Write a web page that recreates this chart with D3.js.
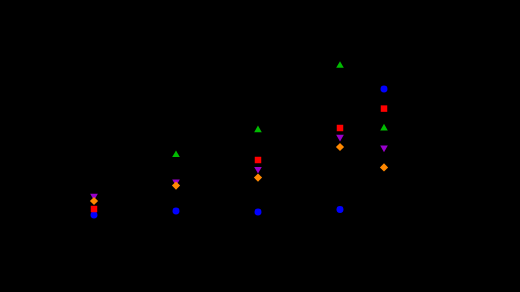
<!DOCTYPE html>
<html>
<head>
<meta charset="utf-8">
<script src="https://cdn.jsdelivr.net/npm/d3@7"></script>
<style>
  html, body { margin: 0; padding: 0; background: #000; }
  svg { display: block; font-family: "DejaVu Sans", sans-serif; }
</style>
</head>
<body>
<div id="chart"></div>
<script>
// data
var categories = ["Q1", "Q2", "Q3", "Q4"];
var seriesNames = ["Series A", "Series B", "Series C", "Series D", "Series E"];
var seriesA = [11.75, 12.75, 12.5, 13.1];      // blue circles
var seriesB = [13.25, null, 25.5, 33.5];       // red squares
var seriesC = [null, 26.8, 33.0, 49.1];        // green triangles
var seriesD = [16.5, 20.1, 23.2, 31.25];       // purple down triangles
var seriesE = [15.25, 19.1, 21.1, 28.75];      // orange diamonds
var yTicks = [0, 10, 20, 30, 40, 50, 60];

var svgWidth = 520, svgHeight = 292;
var margin = { top: 22, right: 139, bottom: 30, left: 53 };

var svg = d3.select("#chart").append("svg")
    .attr("width", svgWidth)
    .attr("height", svgHeight);

var x = d3.scalePoint()
    .domain(categories)
    .range([margin.left, svgWidth - margin.right])
    .padding(0.5);

var y = d3.scaleLinear()
    .domain([0, 60])
    .range([svgHeight - margin.bottom, margin.top]);

// axes are black, same as the page
svg.append("g")
    .attr("transform", "translate(0," + (svgHeight - margin.bottom) + ")")
    .call(d3.axisBottom(x))
    .call(function (g) { g.selectAll("line,path").attr("stroke", "#000"); g.selectAll("text").attr("fill", "#000"); });

svg.append("g")
    .attr("transform", "translate(" + margin.left + ",0)")
    .call(d3.axisLeft(y).tickValues(yTicks))
    .call(function (g) { g.selectAll("line,path").attr("stroke", "#000"); g.selectAll("text").attr("fill", "#000"); });

// diamond = square turned 45 degrees
var series = [
    { name: seriesNames[0], values: seriesA, color: "#0000ff", type: d3.symbolCircle, rot: 0, size: 38 },
    { name: seriesNames[1], values: seriesB, color: "#ff0000", type: d3.symbolSquare, rot: 0, size: 42 },
    { name: seriesNames[2], values: seriesC, color: "#00bb00", type: d3.symbolTriangle, rot: 0, size: 25 },
    { name: seriesNames[3], values: seriesD, color: "#9900cc", type: d3.symbolTriangle, rot: 180, size: 25 },
    { name: seriesNames[4], values: seriesE, color: "#ff8800", type: d3.symbolSquare, rot: 45, size: 34 }
];

series.forEach(function (s) {
    var sym = d3.symbol().type(s.type).size(s.size);
    svg.append("g")
        .selectAll("path")
        .data(s.values.map(function (v, i) { return { cat: categories[i], v: v }; })
            .filter(function (d) { return d.v != null; }))
        .join("path")
        .attr("d", sym)
        .attr("fill", s.color)
        .attr("transform", function (d) {
            return "translate(" + x(d.cat) + "," + y(d.v) + ") rotate(" + s.rot + ")";
        });
});

// legend to the right of the plot
var legend = svg.append("g")
    .attr("transform", "translate(384,89)");

var items = legend.selectAll("g")
    .data(series)
    .join("g")
    .attr("transform", function (d, i) { return "translate(0," + (i * 19.6) + ")"; });

items.append("path")
    .attr("d", function (d) { return d3.symbol().type(d.type).size(d.size)(); })
    .attr("fill", function (d) { return d.color; })
    .attr("transform", function (d) { return "rotate(" + d.rot + ")"; });

items.append("text")
    .attr("x", 10)
    .attr("dy", "0.35em")
    .attr("font-size", 11)
    .attr("fill", "#000")
    .text(function (d) { return d.name; });
</script>
</body>
</html>
